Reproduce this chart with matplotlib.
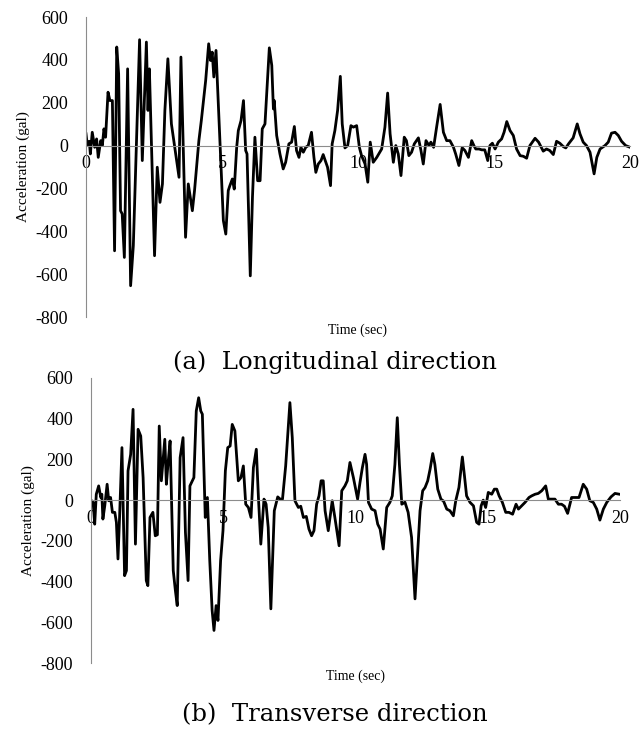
import matplotlib
matplotlib.use('Agg')
import matplotlib.pyplot as plt
import numpy as np

plt.rcParams['axes.unicode_minus'] = False

# longitudinal record (sec, gal)
t_long = [0.00, 0.05, 0.12, 0.16, 0.23, 0.32, 0.39, 0.45, 0.54, 0.60, 0.66, 0.72, 0.81, 0.88,
          0.97, 1.05, 1.13, 1.20, 1.27, 1.33, 1.41, 1.53, 1.64, 1.74, 1.97, 2.07, 2.22, 2.28,
          2.33, 2.52, 2.62, 2.72, 2.81, 2.90, 3.01, 3.14, 3.21, 3.27, 3.42, 3.49, 3.66, 3.76,
          3.91, 3.99, 4.15, 4.24, 4.40, 4.51, 4.58, 4.64, 4.70, 4.78, 5.05, 5.14, 5.23, 5.29,
          5.38, 5.45, 5.54, 5.60, 5.70, 5.79, 5.87, 5.92, 6.04, 6.12, 6.21, 6.31, 6.40, 6.48,
          6.58, 6.74, 6.83, 6.89, 6.92, 7.01, 7.13, 7.25, 7.34, 7.46, 7.56, 7.66, 7.74, 7.83,
          7.90, 7.99, 8.08, 8.17, 8.29, 8.38, 8.45, 8.54, 8.64, 8.72, 8.82, 8.88, 8.99, 9.05,
          9.15, 9.25, 9.35, 9.42, 9.52, 9.62, 9.74, 9.83, 9.95, 10.05, 10.13, 10.26, 10.36,
          10.45, 10.56, 10.69, 10.87, 10.99, 11.09, 11.18, 11.30, 11.39, 11.48, 11.58, 11.70,
          11.78, 11.87, 11.97, 12.07, 12.22, 12.31, 12.40, 12.50, 12.61, 12.68, 12.78, 12.89,
          13.02, 13.14, 13.26, 13.38, 13.51, 13.59, 13.71, 13.83, 13.93, 14.06, 14.18, 14.26,
          14.33, 14.45, 14.55, 14.66, 14.77, 14.85, 14.94, 15.04, 15.16, 15.28, 15.37, 15.47,
          15.59, 15.71, 15.83, 15.96, 16.08, 16.20, 16.32, 16.51, 16.64, 16.81, 16.93, 17.05,
          17.18, 17.30, 17.42, 17.55, 17.64, 17.74, 17.91, 18.06, 18.16, 18.28, 18.40, 18.53,
          18.68, 18.78, 18.90, 19.08, 19.20, 19.32, 19.45, 19.57, 19.69, 19.84, 20.00]
a_long = [55, 0, 20, -39, 62, -8, 31, -55, 23, 0, 78, 39, 249, 210,
          210, -491, 460, 335, -304, -319, -522, 358, -654, -467, 494, -70, 483, 164,
          358, -514, -101, -265, -179, 164, 405, 101, 39, -16, -148, 413, -428, -179,
          -304, -210, 23, 117, 304, 475, 397, 436, 320, 444, -350, -413, -210, -187,
          -156, -203, -8, 70, 117, 210, -23, -39, -608, -241, 39, -164, -164, 78,
          101, 456, 374, 171, 210, 47, -39, -109, -78, 8, 16, 89, -23, -55,
          -8, -31, -8, 0, 62, -55, -125, -86, -70, -42, -78, -101, -187, 8,
          70, 164, 323, 101, -11, 0, 93, 86, 93, -8, -47, -86, -171,
          16, -78, -55, -16, 86, 245, 55, -78, 0, -39, -140, 39,
          23, -47, -31, 8, 36, -20, -86, 23, 0, 16, -8, 86,
          192, 62, 23, 23, -8, -39, -93, -10, -23, -55, 23, 0,
          -16, -16, -20, -20, -70, 0, 11, -16, 16, 31, 62, 112,
          70, 47, -16, -47, -50, -59, 0, 34, 16, -26, -16, -23,
          -42, 20, 11, -5, -11, 8, 36, 101, 55, 16, 0, -31,
          -132, -55, -16, 0, 16, 58, 62, 47, 20, 0, -8]

# transverse record (sec, gal)
t_trans = [0.00, 0.08, 0.14, 0.20, 0.29, 0.37, 0.41, 0.45, 0.52, 0.61, 0.67, 0.74, 0.81, 0.90,
           0.96, 1.02, 1.08, 1.17, 1.27, 1.34, 1.40, 1.50, 1.59, 1.68, 1.78, 1.88, 1.97, 2.09,
           2.15, 2.23, 2.34, 2.43, 2.51, 2.58, 2.66, 2.79, 2.85, 2.91, 2.99, 3.11, 3.19, 3.26,
           3.37, 3.48, 3.57, 3.67, 3.74, 3.89, 3.98, 4.07, 4.15, 4.21, 4.32, 4.40, 4.49, 4.58,
           4.65, 4.73, 4.80, 4.90, 4.99, 5.08, 5.17, 5.26, 5.34, 5.44, 5.57, 5.67, 5.76, 5.85,
           5.95, 6.05, 6.14, 6.25, 6.33, 6.42, 6.54, 6.62, 6.70, 6.80, 6.93, 7.06, 7.15, 7.24,
           7.36, 7.52, 7.61, 7.71, 7.84, 7.93, 8.03, 8.14, 8.24, 8.34, 8.43, 8.53, 8.62, 8.70,
           8.78, 8.85, 8.97, 9.12, 9.22, 9.38, 9.48, 9.60, 9.69, 9.79, 9.92, 10.08, 10.17, 10.26,
           10.36, 10.42, 10.49, 10.61, 10.74, 10.84, 10.93, 11.05, 11.18, 11.30, 11.39, 11.49,
           11.58, 11.66, 11.75, 11.87, 11.99, 12.12, 12.25, 12.44, 12.54, 12.63, 12.73, 12.82,
           12.92, 13.00, 13.11, 13.23, 13.33, 13.45, 13.57, 13.70, 13.79, 13.91, 14.04, 14.12,
           14.20, 14.33, 14.46, 14.58, 14.67, 14.75, 14.83, 14.92, 15.02, 15.15, 15.25, 15.34,
           15.43, 15.55, 15.68, 15.80, 15.94, 16.07, 16.16, 16.28, 16.41, 16.56, 16.66, 16.79,
           16.91, 17.04, 17.19, 17.29, 17.42, 17.54, 17.67, 17.79, 17.90, 18.02, 18.17, 18.30,
           18.45, 18.61, 18.74, 18.86, 18.99, 19.12, 19.24, 19.37, 19.50, 19.66, 19.81, 19.98]
a_trans = [0, -11, -118, 29, 70, 13, 29, -93, -28, 78, -3, 13, -60, -60,
           -109, -289, -85, 258, -371, -346, 144, 225, 446, -216, 348, 315, 111, -395,
           -420, -85, -60, -175, -170, 364, 95, 299, 78, 176, 291, -346, -444, -518,
           209, 307, -158, -395, 70, 111, 438, 503, 438, 422, -85, 13, -297, -542,
           -640, -518, -591, -297, -150, 144, 258, 266, 372, 340, 95, 111, 168, -20,
           -36, -85, 160, 250, 13, -216, 5, -20, -134, -534, -52, 16, 5, 5,
           168, 479, 307, -3, -36, -30, -85, -80, -142, -175, -150, -20, 21, 95,
           95, -52, -150, -3, -85, -224, 46, 70, 95, 185, 111, 5, 87, 160,
           225, 176, -11, -44, -52, -118, -142, -240, -36, -11, 21, 176,
           405, 176, -20, -10, -60, -183, -485, -52, 46, 62, 95, 152,
           229, 176, 54, 5, -5, -44, -52, -77, -3, 62, 212, 119,
           21, -11, -28, -109, -118, -28, 0, -36, 38, 29, 54, 54,
           21, -10, -60, -60, -69, -20, -44, -28, -11, 13, 21, 29,
           33, 46, 70, 5, 5, 5, -20, -20, -30, -65, 13, 13,
           13, 78, 54, -3, -11, -44, -98, -44, -11, 16, 33, 29]

y_ticks = [-800, -600, -400, -200, 0, 200, 400, 600]
x_ticks = [0, 5, 10, 15, 20]

tick_font = 'Liberation Serif'
cap_font = 'DejaVu Serif'


def style_axes(ax):
    ax.set_xlim(0, 20)
    ax.set_ylim(-800, 600)
    ax.set_yticks(y_ticks)
    ax.set_xticks(x_ticks)
    ax.spines['top'].set_visible(False)
    ax.spines['right'].set_visible(False)
    ax.spines['left'].set_color('#8c8c8c')
    ax.spines['bottom'].set_color('#8c8c8c')
    ax.spines['bottom'].set_position(('data', 0))
    ax.tick_params(length=0, labelsize=13)
    ax.tick_params(axis='y', pad=13)
    ax.tick_params(axis='x', pad=7)
    for lab in ax.get_xticklabels() + ax.get_yticklabels():
        lab.set_fontfamily(tick_font)
    ax.set_ylabel('Acceleration (gal)', fontsize=11, family=tick_font, labelpad=4)
    ax.text(0.5, -0.045, 'Time (sec)', transform=ax.transAxes, ha='center', va='center',
            fontsize=10, family=tick_font)


fig = plt.figure(figsize=(6.41, 7.34), dpi=100)

ax1 = fig.add_axes([86 / 641, 1 - 317 / 734, 544 / 641, 300 / 734])
ax1.plot(t_long, a_long, color='black', lw=2.0)
style_axes(ax1)

ax2 = fig.add_axes([91 / 641, 1 - 663 / 734, 529 / 641, 285 / 734])
ax2.plot(t_trans, a_trans, color='black', lw=2.0)
style_axes(ax2)

fig.text(335 / 641, 1 - 362 / 734, '(a)  Longitudinal direction', ha='center', va='center',
         fontsize=17.5, family=cap_font)
fig.text(335 / 641, 1 - 715 / 734, '(b)  Transverse direction', ha='center', va='center',
         fontsize=17.5, family=cap_font)

fig.savefig('out.png', dpi=100)
